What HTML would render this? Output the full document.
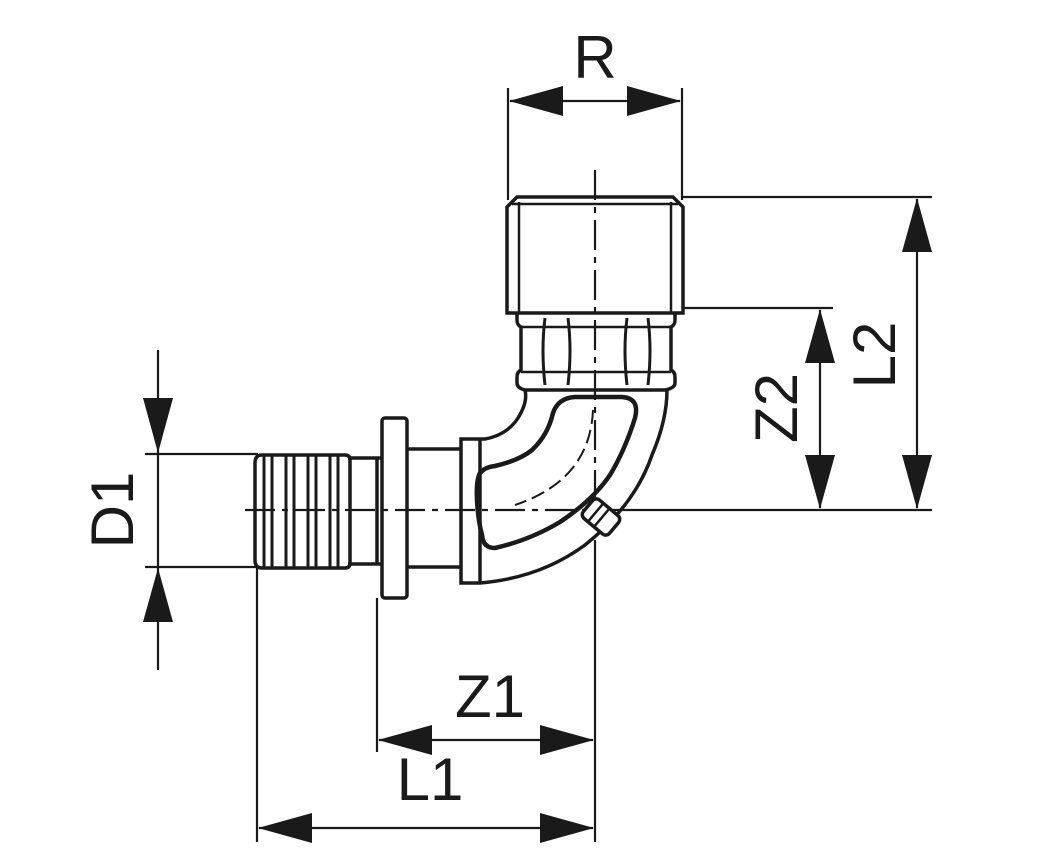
<!DOCTYPE html>
<html><head><style>
html,body{margin:0;padding:0;background:#fff;}
svg{display:block;}
text{font-family:"Liberation Sans",sans-serif;fill:#1a1a1a;}
</style></head><body>
<svg width="1057" height="866" viewBox="0 0 1057 866" xmlns="http://www.w3.org/2000/svg">
<g stroke="#1a1a1a" fill="none" stroke-linecap="butt">
<g stroke-width="2.2">
<line x1="508" y1="88" x2="508" y2="200"/>
<line x1="682" y1="88" x2="682" y2="200"/>
<line x1="510" y1="101" x2="680" y2="101"/>
<line x1="683" y1="197" x2="932" y2="197"/>
<line x1="683" y1="308" x2="833" y2="308"/>
<line x1="600" y1="510" x2="932" y2="510"/>
<line x1="917" y1="199" x2="917" y2="508"/>
<line x1="820" y1="310" x2="820" y2="508"/>
<line x1="158" y1="350" x2="158" y2="670"/>
<line x1="145" y1="454" x2="258" y2="454"/>
<line x1="145" y1="567" x2="258" y2="567"/>
<line x1="257" y1="568" x2="257" y2="842"/>
<line x1="377" y1="598" x2="377" y2="752"/>
<line x1="595" y1="540" x2="595" y2="842"/>
<line x1="379" y1="740" x2="593" y2="740"/>
<line x1="259" y1="828" x2="593" y2="828"/>
</g>
<g stroke-width="2.2" stroke-dasharray="30,7,6,7">
<line x1="595" y1="170" x2="595" y2="500"/>
<line x1="245" y1="510" x2="600" y2="510"/>
</g>
<g stroke-width="3.5">
<path d="M507 313 V207 L517 197 H673 L683 207 V313 Z"/>
<line x1="519" y1="202" x2="519" y2="313" stroke-width="2.5"/>
<line x1="671" y1="202" x2="671" y2="313" stroke-width="2.5"/>
<line x1="512" y1="204" x2="678" y2="204" stroke-width="2.5"/>
<!-- hex nut -->
<path d="M517 313 V320 Q517 325 521 327 V370 Q517 372 517 377 V383 Q517 388 525 390 H665 Q675 388 675 383 V377 Q675 372 671 370 V327 Q675 325 675 320 V313"/>
<line x1="521" y1="327" x2="671" y2="327" stroke-width="2.5"/>
<line x1="521" y1="372" x2="671" y2="372" stroke-width="2.5"/>
<path d="M545 318 Q541 350 545 385 M568 318 Q572 350 568 385 M627 318 Q623 350 627 385 M648 318 Q652 350 648 385" stroke-width="3"/>
<!-- elbow outer -->
<path d="M525 390 Q528 402 518 418 Q507 435 485 439 H461 V583 H480 Q540 578 585 545 Q635 505 652 455 Q667 420 667 390"/>
<line x1="480" y1="439" x2="480" y2="583"/>
<!-- inner thick shape -->
<path d="M480 473 Q485 467 495 466 Q520 460 532 450 Q548 435 553 413 Q558 398 575 397 H622 Q640 398 635 418 Q625 450 610 475 Q593 500 560 522 Q530 540 495 548 Q483 548 482 535 Q478 520 477 500 Q476 480 480 473 Z" stroke-width="4.5"/>
<path d="M593 410 Q590 480 515 505" stroke-width="2" stroke-dasharray="14,6"/>
<!-- boss -->
<g transform="rotate(40 601 517)">
<rect x="584" y="505" width="34" height="24" rx="5" fill="#fff"/>
<line x1="594" y1="505" x2="594" y2="529" stroke-width="2.5"/>
<line x1="602" y1="505" x2="602" y2="529" stroke-width="2.5"/>
</g>
<path d="M407 449 H461 M407 567 H461"/>
<rect x="382" y="418" width="25" height="180" rx="3"/>
<path d="M348 458 H382 M348 564 H382"/>
<line x1="377" y1="458" x2="377" y2="564"/>
<path d="M262 455 H345 Q350 455 350 460 V563 Q350 568 345 568 H262 Q255 568 255 560 V463 Q255 455 262 455 Z"/>
<path d="M264 456 V567 M272 456 V567 M286 456 V567 M294 456 V567 M308 456 V567 M316 456 V567 M330 456 V567 M338 456 V567" stroke-width="3"/>
</g>
</g>
<g fill="#1a1a1a">
<polygon points="509,101 563,86 563,116"/>
<polygon points="681,101 627,86 627,116"/>
<polygon points="917,198 902,252 932,252"/>
<polygon points="917,509 902,455 932,455"/>
<polygon points="820,309 805,363 835,363"/>
<polygon points="820,509 805,455 835,455"/>
<polygon points="158,453 143,398 173,398"/>
<polygon points="158,568 143,622 173,622"/>
<polygon points="378,740 432,725 432,755"/>
<polygon points="594,740 540,725 540,755"/>
<polygon points="258,828 312,813 312,843"/>
<polygon points="594,828 540,813 540,843"/>
</g>
<text x="595" y="78" font-size="60" text-anchor="middle">R</text>
<text x="490" y="717" font-size="60" text-anchor="middle">Z1</text>
<text x="430" y="800" font-size="60" text-anchor="middle">L1</text>
<text transform="translate(133 510) rotate(-90)" font-size="60" text-anchor="middle">D1</text>
<text transform="translate(797 408) rotate(-90)" font-size="60" text-anchor="middle">Z2</text>
<text transform="translate(895 355) rotate(-90)" font-size="60" text-anchor="middle">L2</text>
</svg>
</body></html>
